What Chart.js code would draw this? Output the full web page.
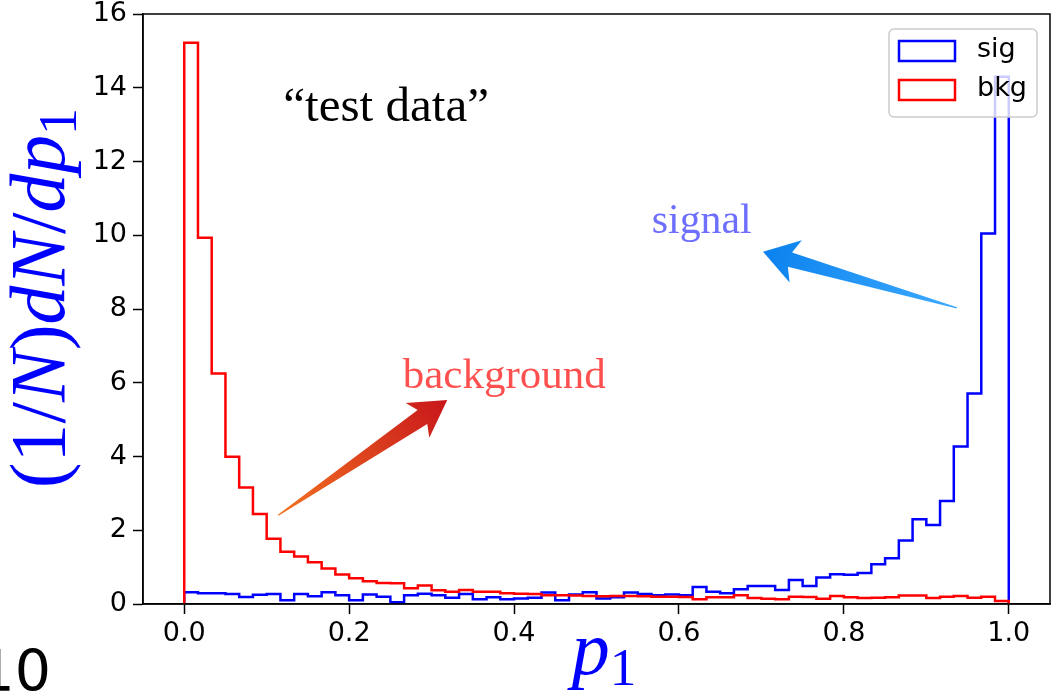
<!DOCTYPE html>
<html>
<head>
<meta charset="utf-8">
<script src="https://cdn.jsdelivr.net/npm/chart.js@4.4.1/dist/chart.umd.min.js"></script>
<style>
  html, body { margin: 0; padding: 0; background: #fff; }
</style>
</head>
<body>
<canvas id="histChart" width="1060" height="693"></canvas>
<script>
// histogram of p1, 60 equal bins between 0 and 1
const binStart = 0;
const binEnd = 1;

const seriesNames = ['sig', 'bkg'];

// signal (blue)
const sigValues = [
    0.32, 0.29, 0.29, 0.27, 0.19, 0.25, 0.27, 0.10, 0.27, 0.21,
    0.32, 0.24, 0.10, 0.26, 0.20, 0.05, 0.24, 0.28, 0.24, 0.17,
    0.27, 0.13, 0.18, 0.13, 0.15, 0.17, 0.31, 0.10, 0.26, 0.32,
    0.15, 0.18, 0.31, 0.27, 0.24, 0.26, 0.24, 0.46, 0.33, 0.29,
    0.40, 0.49, 0.49, 0.38, 0.65, 0.49, 0.72, 0.81, 0.79, 0.84,
    1.08, 1.24, 1.72, 2.30, 2.14, 2.79, 4.27, 5.71, 10.05, 14.30
];

// background (red)
const bkgValues = [
    15.22, 9.93, 6.25, 3.99, 3.16, 2.44, 1.77, 1.42, 1.29, 1.13,
    0.96, 0.80, 0.70, 0.62, 0.57, 0.56, 0.43, 0.50, 0.37, 0.33,
    0.38, 0.33, 0.33, 0.29, 0.28, 0.27, 0.24, 0.24, 0.23, 0.22,
    0.21, 0.22, 0.22, 0.21, 0.20, 0.20, 0.19, 0.13, 0.18, 0.18,
    0.24, 0.16, 0.14, 0.13, 0.20, 0.19, 0.14, 0.22, 0.18, 0.16,
    0.17, 0.18, 0.23, 0.23, 0.16, 0.20, 0.22, 0.17, 0.20, 0.08
];

const xTicks = [0, 0.2, 0.4, 0.6, 0.8, 1.0];
const xTickLabels = ['0.0', '0.2', '0.4', '0.6', '0.8', '1.0'];
const yTicks = [0, 2, 4, 6, 8, 10, 12, 14, 16];
const yTickLabels = ['0', '2', '4', '6', '8', '10', '12', '14', '16'];

// outline of a step histogram: up at the first edge, steps, down at the last edge
function stepPoints(values) {
    const w = (binEnd - binStart) / values.length;
    const pts = [{ x: binStart, y: 0 }];
    values.forEach((v, i) => pts.push({ x: binStart + i * w, y: v }));
    pts.push({ x: binEnd, y: values[values.length - 1] });
    pts.push({ x: binEnd, y: 0 });
    return pts;
}

// annotations, placed in data units
const notes = [
    { text: '\u201Ctest data\u201D', at: [0.12, 13.1], width: 206, color: '#000000' },
    { text: 'signal', at: [0.567, 10.06], width: 100, color: 'rgb(110,110,255)' },
    { text: 'background', at: [0.265, 5.85], width: 203, color: 'rgb(255,80,80)' }
];

const arrows = [
    { from: [0.114, 2.41], to: [0.319, 5.53], headLength: 36, headWidth: 42, shaftWidth: 17,
      colorTail: '#f37321', colorHead: '#c8161b' },
    { from: [0.937, 8.03], to: [0.702, 9.55], headLength: 34, headWidth: 44, shaftWidth: 15,
      colorTail: '#3eaaff', colorHead: '#0a82ee' }
];

const serif = '"Liberation Serif", "DejaVu Serif", serif';

function drawArrow(ctx, tail, tip, o) {
    const dx = tip.x - tail.x, dy = tip.y - tail.y;
    const len = Math.hypot(dx, dy);
    const ux = dx / len, uy = dy / len;
    const px = -uy, py = ux;
    const bx = tip.x - ux * o.headLength, by = tip.y - uy * o.headLength;
    const jx = bx + ux * 6, jy = by + uy * 6; // shaft joins slightly ahead of the barbs
    const hw = o.headWidth / 2, sw = o.shaftWidth / 2, tw = 0.6;
    const grad = ctx.createLinearGradient(tail.x, tail.y, tip.x, tip.y);
    grad.addColorStop(0, o.colorTail);
    grad.addColorStop(1, o.colorHead);
    ctx.beginPath();
    ctx.moveTo(tail.x + px * tw, tail.y + py * tw);
    ctx.lineTo(jx + px * sw, jy + py * sw);
    ctx.lineTo(bx + px * hw, by + py * hw);
    ctx.lineTo(tip.x, tip.y);
    ctx.lineTo(bx - px * hw, by - py * hw);
    ctx.lineTo(jx - px * sw, jy - py * sw);
    ctx.lineTo(tail.x - px * tw, tail.y - py * tw);
    ctx.closePath();
    ctx.fillStyle = grad;
    ctx.fill();
}

// draws (or just measures) a run of math-like text pieces
function mathRun(ctx, pieces, size, draw, x0, y0) {
    let x = x0;
    pieces.forEach(p => {
        const s = p.sub ? size * 0.7 : size;
        ctx.font = (p.it ? 'italic ' : '') + s + 'px ' + serif;
        if (draw) ctx.fillText(p.t, x, y0 + (p.sub ? size * 0.15 : 0));
        x += ctx.measureText(p.t).width;
    });
    return x - x0;
}

const yLabelPieces = [
    { t: '(1/' }, { t: 'N', it: true }, { t: ')' }, { t: 'dN', it: true },
    { t: '/' }, { t: 'dp', it: true }, { t: '1', sub: true }
];
const xLabelPieces = [{ t: 'p', it: true }, { t: '1', sub: true }];

function drawLegend(ctx, area, datasets) {
    const w = 148, h = 88;
    const lx = area.right - 13 - w, ly = area.top + 15;
    ctx.beginPath();
    if (ctx.roundRect) ctx.roundRect(lx, ly, w, h, 5); else ctx.rect(lx, ly, w, h);
    ctx.fillStyle = 'rgba(255,255,255,0.8)';
    ctx.fill();
    ctx.strokeStyle = '#cccccc';
    ctx.lineWidth = 1.5;
    ctx.stroke();
    datasets.forEach((ds, i) => {
        const rowY = ly + 12 + i * 39;
        ctx.strokeStyle = ds.borderColor;
        ctx.lineWidth = 2.5;
        ctx.strokeRect(lx + 10, rowY, 56, 20);
        ctx.fillStyle = '#000';
        ctx.font = '27px "DejaVu Sans"';
        ctx.textAlign = 'left';
        ctx.textBaseline = 'alphabetic';
        ctx.fillText(ds.label, lx + 88, rowY + 16);
    });
}

const decorPlugin = {
    id: 'decor',
    afterDraw(chart) {
        const { ctx, chartArea: a } = chart;
        const xs = chart.scales.x, ys = chart.scales.y;
        ctx.save();

        // frame around the axes
        ctx.strokeStyle = '#000';
        ctx.lineWidth = 1.5;
        ctx.strokeRect(a.left, a.top, a.right - a.left, a.bottom - a.top);

        arrows.forEach(ar => {
            drawArrow(ctx,
                { x: xs.getPixelForValue(ar.from[0]), y: ys.getPixelForValue(ar.from[1]) },
                { x: xs.getPixelForValue(ar.to[0]), y: ys.getPixelForValue(ar.to[1]) }, ar);
        });

        ctx.textAlign = 'left';
        ctx.textBaseline = 'alphabetic';
        notes.forEach(n => {
            ctx.font = '100px ' + serif;
            const size = 100 * n.width / ctx.measureText(n.text).width;
            ctx.font = size + 'px ' + serif;
            ctx.fillStyle = n.color;
            ctx.fillText(n.text, xs.getPixelForValue(n.at[0]), ys.getPixelForValue(n.at[1]));
        });

        drawLegend(ctx, a, chart.data.datasets);

        // axis titles (blue, math style)
        ctx.fillStyle = '#0000ff';
        ctx.textAlign = 'left';
        ctx.textBaseline = 'alphabetic';
        const ySize = 380 / mathRun(ctx, yLabelPieces, 1, false, 0, 0);
        ctx.save();
        ctx.translate(64, 298);
        ctx.rotate(-Math.PI / 2);
        const yw = mathRun(ctx, yLabelPieces, ySize, false, 0, 0);
        mathRun(ctx, yLabelPieces, ySize, true, -yw / 2, 0);
        ctx.restore();

        const xw = mathRun(ctx, xLabelPieces, 76, false, 0, 0);
        mathRun(ctx, xLabelPieces, 76, true, 604 - xw / 2, 674);

        // stray label cut off at the lower left edge
        ctx.fillStyle = '#000';
        ctx.font = '57px "DejaVu Sans"';
        ctx.textAlign = 'right';
        ctx.fillText('10', 51, 691);

        ctx.restore();
    }
};

const tickFont = { family: 'DejaVu Sans', size: 27, lineHeight: 1 };

// keep the plot box fixed: drop the extra room Chart.js reserves for edge labels
function fixScaleBox(s, size) {
    if (s.isHorizontal()) s.height = size; else s.width = size;
    s.paddingTop = 0;
    s.paddingBottom = 0;
    s.paddingLeft = 0;
    s.paddingRight = 0;
}

const ctx = document.getElementById('histChart').getContext('2d');
new Chart(ctx, {
    type: 'line',
    data: {
        datasets: [
            {
                label: seriesNames[0],
                data: stepPoints(sigValues),
                borderColor: '#0000ff',
                backgroundColor: 'rgba(0,0,0,0)',
                borderWidth: 2.5,
                stepped: true,
                pointRadius: 0,
                fill: false,
                order: 1
            },
            {
                label: seriesNames[1],
                data: stepPoints(bkgValues),
                borderColor: '#ff0000',
                backgroundColor: 'rgba(0,0,0,0)',
                borderWidth: 2.5,
                stepped: true,
                pointRadius: 0,
                fill: false,
                order: 0
            }
        ]
    },
    options: {
        responsive: false,
        animation: false,
        events: [],
        layout: { padding: { top: 14, right: 10, left: 0, bottom: 0 } },
        plugins: {
            legend: { display: false },
            tooltip: { enabled: false }
        },
        scales: {
            x: {
                type: 'linear',
                min: -0.05,
                max: 1.05,
                afterBuildTicks: s => { s.ticks = xTicks.map(v => ({ value: v })); },
                afterFit: s => fixScaleBox(s, 89),
                ticks: {
                    callback: (v, i) => xTickLabels[i],
                    font: tickFont,
                    color: '#000',
                    padding: 6,
                    autoSkip: false,
                    maxRotation: 0
                },
                grid: { drawOnChartArea: false, tickLength: 10, tickColor: '#000', tickWidth: 1.5 },
                border: { color: '#000', width: 1.5 }
            },
            y: {
                type: 'linear',
                min: 0,
                max: 16,
                afterBuildTicks: s => { s.ticks = yTicks.map(v => ({ value: v })); },
                afterFit: s => fixScaleBox(s, 143),
                ticks: {
                    callback: (v, i) => yTickLabels[i],
                    font: tickFont,
                    color: '#000',
                    padding: 6,
                    autoSkip: false
                },
                grid: { drawOnChartArea: false, tickLength: 10, tickColor: '#000', tickWidth: 1.5 },
                border: { color: '#000', width: 1.5 }
            }
        }
    },
    plugins: [decorPlugin]
});
</script>
</body>
</html>
